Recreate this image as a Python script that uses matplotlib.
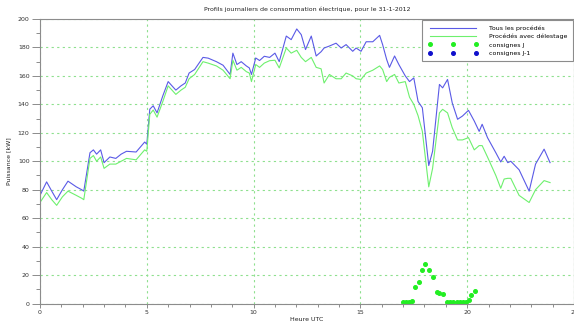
import matplotlib
matplotlib.use("Agg")
import matplotlib.pyplot as plt
from matplotlib.ticker import MultipleLocator

# Hours (UTC) at which the load curves were read
hours = [0.0, 0.31, 0.55, 0.78, 1.05, 1.31, 1.7, 1.95, 2.05, 2.34, 2.5, 2.65, 2.84,
         3.0, 3.27, 3.55, 3.8, 4.05, 4.5, 4.9, 5.0, 5.14, 5.3, 5.48, 5.75, 6.0,
         6.36, 6.6, 6.8, 6.98, 7.24, 7.63, 7.87, 8.26, 8.57, 8.9, 9.03, 9.22,
         9.42, 9.66, 9.8, 9.9, 10.1, 10.28, 10.5, 10.75, 11.0, 11.2, 11.53,
         11.76, 12.02, 12.23, 12.43, 12.7, 12.93, 13.16, 13.3, 13.55, 13.86,
         14.1, 14.33, 14.64, 14.8, 15.03, 15.27, 15.58, 15.9, 16.04, 16.23,
         16.36, 16.6, 16.8, 17.1, 17.3, 17.5, 17.7, 17.9, 18.2, 18.38, 18.7,
         18.85, 19.08, 19.3, 19.55, 19.78, 20.06, 20.33, 20.56, 20.7, 20.95,
         21.34, 21.57, 21.73, 21.9, 22.04, 22.43, 22.9, 23.2, 23.6, 23.88]

# Tous les procédés (kW)
tous = [76, 85.5, 79, 73, 80, 86, 82, 80, 79, 106, 108, 105, 108,
        99, 103, 102, 105, 107, 106.5, 113.5, 112, 136.6, 139, 134, 146, 156,
        150, 153, 155, 162, 164.5, 173, 172.5, 170, 167.5, 161, 176, 168,
        170, 167, 165.6, 161, 172.6, 170.8, 173.8, 173, 176, 170, 188,
        185.5, 193, 189, 178.5, 188, 174, 177, 179.6, 181, 183,
        179.6, 182, 177.3, 179.6, 177.3, 184, 184, 188.5, 182, 171.5,
        166, 174, 168, 160, 156, 158.6, 142, 137.6, 97, 107, 154,
        151.6, 157.5, 141, 129.5, 131.8, 135.8, 128.3, 121, 126, 116.6,
        106, 99.5, 103.5, 99, 100, 94, 79, 98, 108.5, 99]

# Procédés avec délestage (kW)
delestage = [71, 78, 73, 69, 75, 79, 76, 74, 73, 102, 104, 100, 103,
             95, 98, 98, 100, 102, 101, 108, 107, 133, 136, 131, 142, 153,
             147, 150, 152, 158, 161, 170, 169, 167, 164, 158, 171, 164,
             166, 163, 162, 156, 168, 166, 169, 170.7, 171, 165.6, 179.6,
             176, 178, 173, 170, 173, 166, 165, 155, 161, 158,
             158, 162, 160, 158, 157.5, 162, 164, 167, 164.5, 156,
             159, 161, 155, 156, 145, 140, 132, 121, 82, 95, 134,
             136.5, 134, 123.6, 115, 115, 116.6, 108, 111, 111, 103,
             90, 81, 87.5, 88, 88, 76, 71, 80, 86.4, 85]

# Consignes J (kW)
consigne_hours = [17.0, 17.13, 17.27, 17.4, 17.57, 17.73, 17.87, 18.04, 18.2,
                  18.38, 18.57, 18.7, 18.85, 19.05, 19.2, 19.35, 19.5, 19.65,
                  19.8, 19.95, 20.1, 20.2, 20.37]
consignes_j = [1, 1, 1, 1.5, 11.7, 15.2, 23.4, 28, 23.4,
               18.3, 7.8, 7.6, 6.6, 1, 1, 1, 1, 1,
               1, 1.2, 2.4, 6, 9]
# Consignes J-1: no values on that day
consignes_j1_hours = []
consignes_j1 = []

fig = plt.figure(figsize=(5.74, 3.23), dpi=100)
ax = fig.add_axes([40 / 574, 19.5 / 323, 1 - 40 / 574, (303.5 - 19) / 323])

ax.plot(hours, tous, color="#5a5ae6", linewidth=0.8, label="Tous les procédés")
ax.plot(hours, delestage, color="#6ef06e", linewidth=0.8, label="Procédés avec délestage")
ax.plot(consigne_hours, consignes_j, "o", color="#22ee22", markersize=2.6,
        label="consignes J")
ax.plot(consignes_j1_hours, consignes_j1, "o", color="#1010cc", markersize=2.6,
        label="consignes J-1")

ax.set_xlim(0, 25)
ax.set_ylim(0, 200)
ax.xaxis.set_major_locator(MultipleLocator(5))
ax.xaxis.set_minor_locator(MultipleLocator(1))
ax.yaxis.set_major_locator(MultipleLocator(20))
ax.yaxis.set_minor_locator(MultipleLocator(10))

ax.grid(True, which="major", color="#8ee08e", linestyle=(0, (2, 3)), linewidth=0.8)

for side in ax.spines.values():
    side.set_color("#8c8c8c")
    side.set_linewidth(0.8)
ax.tick_params(axis="both", which="both", colors="#8c8c8c", labelcolor="#333333",
               labelsize=4.5, direction="out", width=0.7)
ax.tick_params(axis="y", which="major", length=5.5, pad=2)
ax.tick_params(axis="y", which="minor", length=3)
ax.tick_params(axis="x", which="major", length=3, pad=2)
ax.tick_params(axis="x", which="minor", length=2)

ax.set_title("Profils journaliers de consommation électrique, pour le 31-1-2012",
             fontsize=4.5, pad=6, color="#222222")
ax.set_xlabel("Heure UTC", fontsize=4.5, labelpad=1, color="#222222")
ax.set_ylabel("Puissance [kW]", fontsize=4.5, labelpad=5, color="#222222")

leg = ax.legend(loc="upper right", fontsize=4.5, numpoints=3, handlelength=8,
                handletextpad=1.8, borderpad=0.9, labelspacing=0.45,
                borderaxespad=0.15, fancybox=False, framealpha=1)
leg.get_frame().set_edgecolor("#8c8c8c")
leg.get_frame().set_linewidth(0.8)

fig.savefig("out.png", dpi=100)
